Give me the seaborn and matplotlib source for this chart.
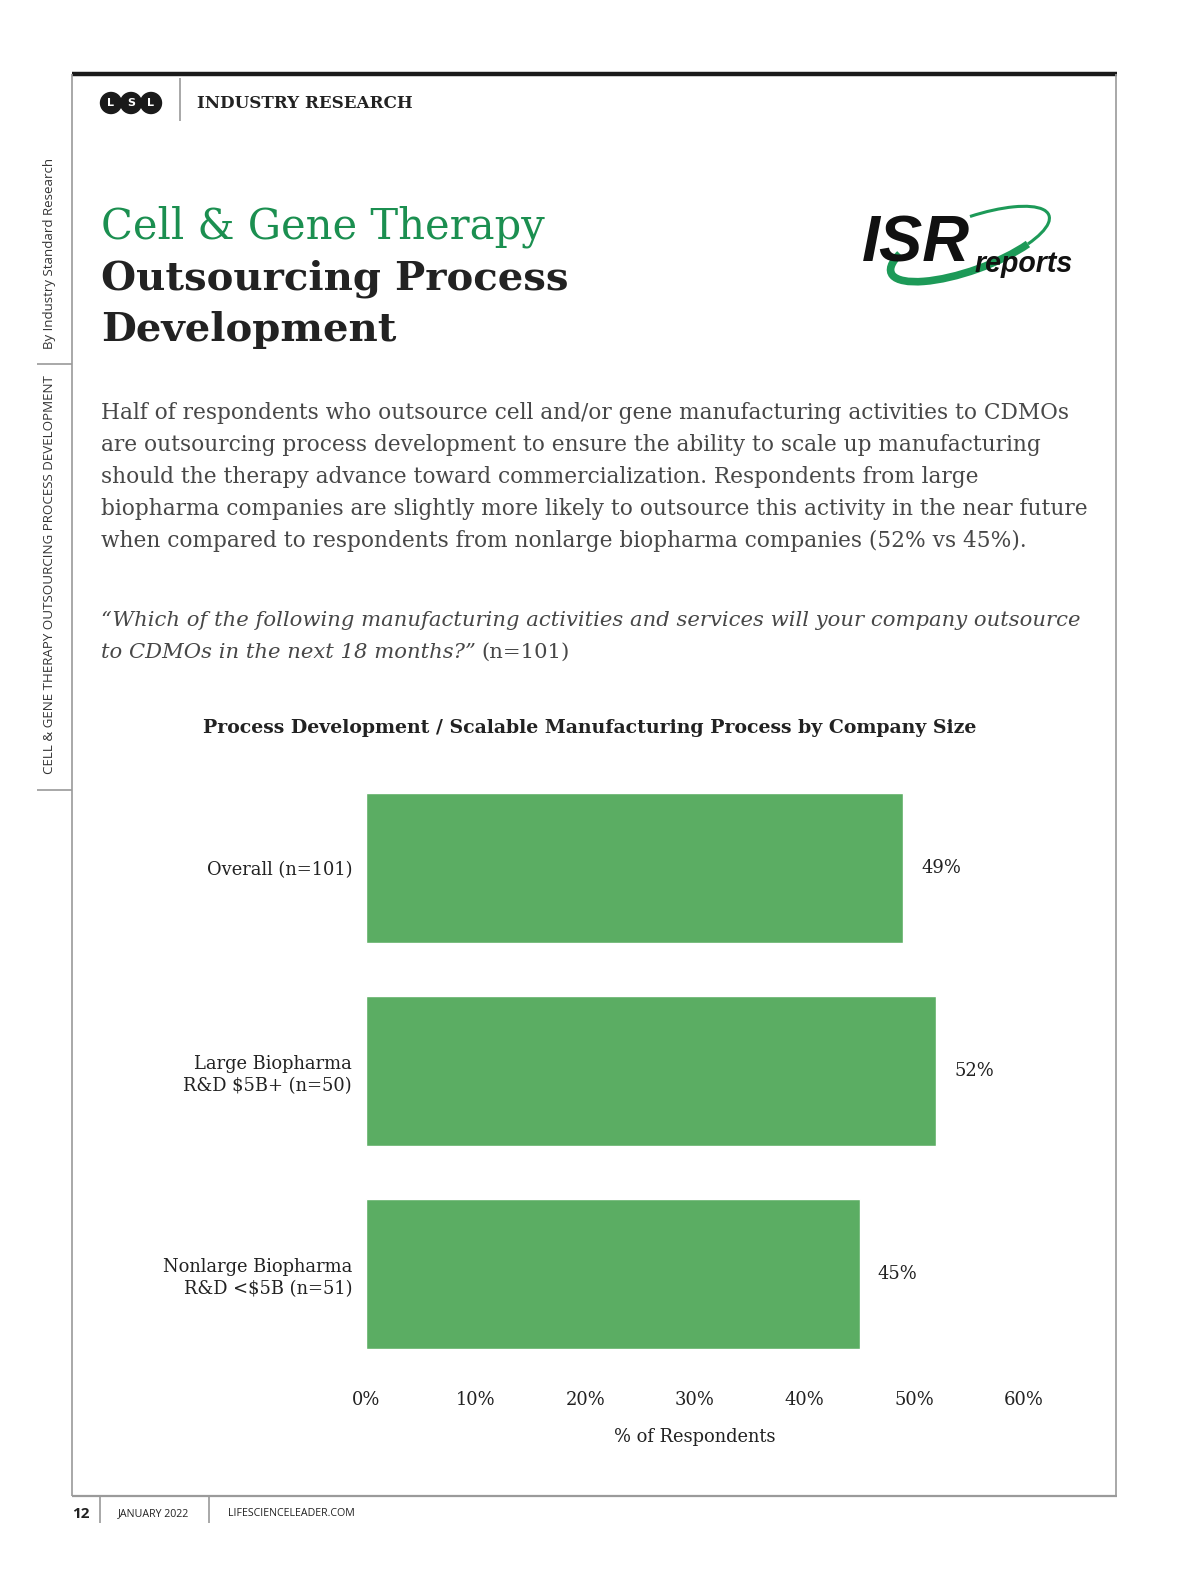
import matplotlib
matplotlib.use("Agg")
import matplotlib.pyplot as plt
import seaborn as sns
import pandas as pd
from matplotlib.patches import Circle, Arc

# chart data
groups = ["Overall (n=101)",
          "Large Biopharma\nR&D $5B+ (n=50)",
          "Nonlarge Biopharma\nR&D <$5B (n=51)"]
values = [49, 52, 45]
xticks = [0, 10, 20, 30, 40, 50, 60]
tick_labels = ["0%", "10%", "20%", "30%", "40%", "50%", "60%"]

title_green = "Cell & Gene Therapy"
title_black = ["Outsourcing Process", "Development"]
para = ["Half of respondents who outsource cell and/or gene manufacturing activities to CDMOs",
        "are outsourcing process development to ensure the ability to scale up manufacturing",
        "should the therapy advance toward commercialization. Respondents from large",
        "biopharma companies are slightly more likely to outsource this activity in the near future",
        "when compared to respondents from nonlarge biopharma companies (52% vs 45%)."]
question = ["\u201cWhich of the following manufacturing activities and services will your company outsource",
            "to CDMOs in the next 18 months?\u201d"]
chart_title = "Process Development / Scalable Manufacturing Process by Company Size"

W, H = 1200, 1582
BAR = "#5bad63"
GREEN = "#1b8f50"
INK = "#222222"
GREY = "#474747"
LINE = "#9a9a9a"

sns.set_theme(style="white")
plt.rcParams["font.family"] = ["DejaVu Serif"]

fig = plt.figure(figsize=(12, 15.82), dpi=100)
page = fig.add_axes([0, 0, 1, 1], zorder=0)
page.set_xlim(0, W)
page.set_ylim(H, 0)
page.axis("off")
rend = fig.canvas.get_renderer()


def size_for(s, width, **kw):
    t = page.text(0, 0, s, fontsize=20, **kw)
    w = t.get_window_extent(rend).width
    t.remove()
    return 20 * width / w


def line(x0, y0, x1, y1, c=LINE, lw=1.2):
    page.plot([x0, x1], [y0, y1], color=c, lw=lw, solid_capstyle="butt")


# page frame
line(72, 74, 1117, 74, c="#1a1a1a", lw=3.2)
line(72, 74, 72, 1496)
line(1116, 74, 1116, 1496)
line(72, 1496, 1117, 1496, lw=1.6)
line(180, 78, 180, 121)
line(37, 364, 72, 364)
line(37, 790, 72, 790)
line(100, 1497, 100, 1523)
line(209, 1497, 209, 1523)

# LSL badge
for cx, ch in zip([111, 131, 151], "LSL"):
    page.add_patch(Circle((cx, 103), 10.5, color="#1a1a1a", zorder=3))
    page.text(cx, 103.5, ch, color="white", fontsize=8, ha="center", va="center",
              family="DejaVu Sans", weight="bold", zorder=4)
fs = size_for("INDUSTRY RESEARCH", 215, weight="bold")
page.text(197, 103, "INDUSTRY RESEARCH", fontsize=fs, weight="bold", color=INK, va="center")

# side texts
fs = size_for("By Industry Standard Research", 190, family="Open Sans")
page.text(50, 253, "By Industry Standard Research", rotation=90, fontsize=fs,
          family="Open Sans", color="#333333", ha="center", va="center")
s = "CELL & GENE THERAPY OUTSOURCING PROCESS DEVELOPMENT"
fs = size_for(s, 400, family="Open Sans")
page.text(50, 575, s, rotation=90, fontsize=fs, family="Open Sans", color="#333333",
          ha="center", va="center")

# titles
fs = size_for(title_green, 442)
page.text(101, 238, title_green, fontsize=fs, color=GREEN, va="baseline")
fs = size_for(title_black[0], 468, weight="bold")
page.text(101, 289, title_black[0], fontsize=fs, weight="bold", color=INK, va="baseline")
page.text(101, 341, title_black[1], fontsize=fs, weight="bold", color=INK, va="baseline")

# ISR logo
page.add_patch(Arc((970, 244), 168, 52, angle=-20, theta1=20, theta2=192,
                   color="#1d9a58", lw=5.5, zorder=2))
page.add_patch(Arc((970, 244), 168, 52, angle=-20, theta1=-70, theta2=20,
                   color="#1d9a58", lw=2.2, zorder=2))
fs = size_for("ISR", 108, weight="heavy", style="italic", family="Liberation Sans")
page.text(862, 261, "ISR", fontsize=fs, weight="heavy", style="italic",
          family="Liberation Sans", color="#111111", va="baseline", zorder=3)
fs = size_for("reports", 98, weight="bold", style="italic", family="Liberation Sans")
page.text(975, 272, "reports", fontsize=fs, weight="bold", style="italic",
          family="Liberation Sans", color="#111111", va="baseline", zorder=3)

# paragraph
fs = size_for(para[0], 965)
for i, ln in enumerate(para):
    page.text(101, 419 + 32 * i, ln, fontsize=fs, color=GREY, va="baseline")

# question
fq = size_for(question[0], 979, style="italic")
page.text(101, 626, question[0], fontsize=fq, style="italic", color=GREY, va="baseline")
t = page.text(101, 658, question[1], fontsize=fq, style="italic", color=GREY, va="baseline")
x_end = page.transData.inverted().transform(
    (t.get_window_extent(rend).x1, 0))[0]
page.text(x_end + 6, 658, "(n=101)", fontsize=fq, color=GREY, va="baseline")

# chart title
fs = size_for(chart_title, 777, weight="bold")
page.text(590, 728, chart_title, fontsize=fs, weight="bold", color=INK,
          ha="center", va="center")

# footer
page.text(72, 1514, "12", fontsize=11, weight="bold", family="Open Sans",
          color=INK, va="center")
fs = size_for("JANUARY 2022", 72, family="Open Sans")
page.text(118, 1514, "JANUARY 2022", fontsize=fs, family="Open Sans", color=INK, va="center")
page.text(228, 1514, "LIFESCIENCELEADER.COM", fontsize=fs, family="Open Sans",
          color=INK, va="center")

# bar chart
ax = fig.add_axes([366 / W, 1 - 1349 / H, (1024 - 366) / W, (1349 - 793) / H], zorder=1)
ax.patch.set_alpha(0)
df = pd.DataFrame({"group": groups, "pct": values})
sns.barplot(data=df, x="pct", y="group", color=BAR, saturation=1, width=0.74, ax=ax)
ax.set_xlim(0, 60)
ax.set_ylim(2.37, -0.37)
ax.set_xticks(xticks)
fl = size_for("Overall (n=101)", 146)
ax.set_xticklabels(tick_labels, fontsize=fl, color=INK)
ax.set_yticks(range(len(groups)))
ax.set_yticklabels(groups, fontsize=fl, color=INK, linespacing=1.3)
ax.tick_params(axis="both", length=0)
ax.tick_params(axis="x", pad=30)
ax.tick_params(axis="y", pad=10)
ax.set_ylabel("")
ax.set_xlabel("% of Respondents", fontsize=fl, color=INK, labelpad=14)
sns.despine(ax=ax, left=True, bottom=True)
ax.bar_label(ax.containers[0], labels=[f"{v}%" for v in values], padding=13,
             fontsize=fl, color=INK)

fig.savefig("out.png", dpi=100, facecolor="white")
